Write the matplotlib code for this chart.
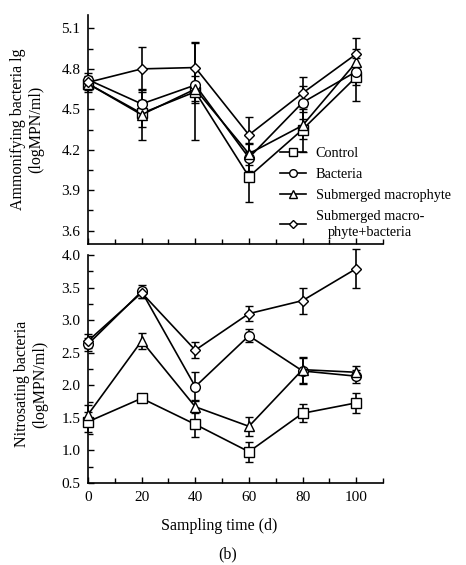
import matplotlib
matplotlib.use("Agg")
import matplotlib.pyplot as plt
from matplotlib.ticker import MultipleLocator
from matplotlib.lines import Line2D

plt.rcParams['font.family'] = ['Liberation Serif', 'DejaVu Serif']
plt.rcParams['font.size'] = 11

days = [0, 20, 40, 60, 80, 100]
labels = ["Control", "Bacteria", "Submerged macrophyte", "Submerged macro-\nphyte+bacteria"]
markers = ["s", "o", "^", "D"]

amm_control = [4.69, 4.47, 4.63, 4.00, 4.35, 4.74]
amm_bacteria = [4.72, 4.54, 4.68, 4.14, 4.55, 4.78]
amm_macro = [4.69, 4.46, 4.65, 4.17, 4.38, 4.85]
amm_macro_bact = [4.70, 4.80, 4.81, 4.31, 4.62, 4.91]
amm_control_err = [0.06, 0.10, 0.36, 0.19, 0.17, 0.18]
amm_bacteria_err = [0.05, 0.09, 0.12, 0.10, 0.12, 0.10]
amm_macro_err = [0.05, 0.19, 0.10, 0.08, 0.10, 0.10]
amm_macro_bact_err = [0.04, 0.16, 0.19, 0.13, 0.12, 0.12]

nit_control = [1.44, 1.80, 1.40, 0.98, 1.57, 1.73]
nit_bacteria = [2.63, 3.44, 1.98, 2.76, 2.22, 2.14]
nit_macro = [1.55, 2.68, 1.67, 1.37, 2.24, 2.20]
nit_macro_bact = [2.68, 3.42, 2.54, 3.10, 3.30, 3.79]
nit_control_err = [0.15, 0.03, 0.20, 0.15, 0.14, 0.15]
nit_bacteria_err = [0.10, 0.10, 0.22, 0.10, 0.20, 0.10]
nit_macro_err = [0.15, 0.13, 0.10, 0.15, 0.20, 0.10]
nit_macro_bact_err = [0.10, 0.08, 0.12, 0.12, 0.20, 0.30]

W, H = 466, 565
fig = plt.figure(figsize=(W / 100, H / 100), dpi=100)

def axrect(l, r, t, b):
    return [l / W, 1 - b / H, (r - l) / W, (b - t) / H]

ax1 = fig.add_axes(axrect(88, 383, 15, 244))
ax2 = fig.add_axes(axrect(88, 383, 255, 483))

top_series = [(amm_control, amm_control_err), (amm_bacteria, amm_bacteria_err),
              (amm_macro, amm_macro_err), (amm_macro_bact, amm_macro_bact_err)]
bot_series = [(nit_control, nit_control_err), (nit_bacteria, nit_bacteria_err),
              (nit_macro, nit_macro_err), (nit_macro_bact, nit_macro_bact_err)]

msizes = {"s": 6.5, "o": 7, "^": 7, "D": 5.5}
for ax, series in [(ax1, top_series), (ax2, bot_series)]:
    for (vals, errs), m, lab in zip(series, markers, labels):
        ax.errorbar(days, vals, yerr=errs, color="black", lw=1.2,
                    marker=m, ms=msizes[m], mfc="white", mec="black", mew=1.0,
                    capsize=3, elinewidth=1.2, capthick=1.2, label=lab,
                    clip_on=False, zorder=3)
    for s in ["top", "right"]:
        ax.spines[s].set_visible(False)
    for s in ["left", "bottom"]:
        ax.spines[s].set_linewidth(1.2)
    ax.set_xlim(0, 110)
    ax.xaxis.set_major_locator(MultipleLocator(20))
    ax.xaxis.set_minor_locator(MultipleLocator(10))
    ax.tick_params(which="both", direction="in", width=1.0, labelsize=11)
    ax.tick_params(which="major", length=4.5)
    ax.tick_params(which="minor", length=3.5)
    ax.tick_params(axis="x", pad=6)
    ax.tick_params(axis="y", pad=5.5)

ax1.set_ylim(3.5, 5.2)
ax1.yaxis.set_minor_locator(MultipleLocator(0.15))
ax1.set_yticks([3.6, 3.9, 4.2, 4.5, 4.8, 5.1])
ax1.set_yticklabels(["3.6", "3.9", "4.2", "4.5", "4.8", "5.1"])
ax1.tick_params(axis="x", labelbottom=False)

ax2.set_ylim(0.5, 4.0)
ax2.yaxis.set_minor_locator(MultipleLocator(0.25))
ax2.set_yticks([0.5, 1.0, 1.5, 2.0, 2.5, 3.0, 3.5, 4.0])
ax2.set_yticklabels(["0.5", "1.0", "1.5", "2.0", "2.5", "3.0", "3.5", "4.0"])

fig.text(27 / W, 1 - 129 / H, "Ammonifying bacteria lg\n(logMPN/ml)", rotation=90,
         ha="center", va="center", multialignment="center", fontsize=11.5, linespacing=1.2)
fig.text(31 / W, 1 - 384 / H, "Nitrosating bacteria\n(logMPN/ml)", rotation=90,
         ha="center", va="center", multialignment="center", fontsize=11.5, linespacing=1.2)
fig.text(219 / W, 1 - 526 / H, "Sampling time (d)", ha="center", va="center", fontsize=11.5)
fig.text(228 / W, 1 - 554 / H, "(b)", ha="center", va="center", fontsize=11.5)

leg_handles = [Line2D([], [], color="black", lw=1.2, marker=m,
                      ms=(4.5 if m == "D" else 5.5), mfc="white", mec="black", mew=1.0)
               for m in markers]
leg = ax1.legend(handles=leg_handles, labels=labels, loc="upper left",
                 bbox_to_anchor=(280 / W, 1 - 147 / H), bbox_transform=fig.transFigure,
                 frameon=False, fontsize=10.3, handlelength=1.85, handletextpad=0.65,
                 labelspacing=0.55, borderpad=0, borderaxespad=0)
for t in leg.get_texts():
    t.set_multialignment("center")
    t.set_linespacing(1.3)

fig.savefig("out.png", dpi=100)
